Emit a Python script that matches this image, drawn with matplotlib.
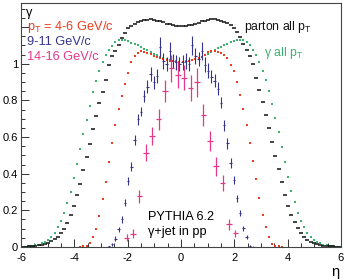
import numpy as np
import matplotlib
matplotlib.use("Agg")
import matplotlib.pyplot as plt
from matplotlib.ticker import MultipleLocator, FuncFormatter, FormatStrFormatter

plt.rcParams['font.family'] = ['Liberation Sans', 'DejaVu Sans']
plt.rcParams['mathtext.default'] = 'regular'

# histogram binning in eta (100 bins, pink one rebinned to 50)
edges = np.linspace(-6, 6, 101)
edges_pink = np.linspace(-6, 6, 51)

# parton, all pT (black)
parton_all = [0.001, 0.002, 0.003, 0.004, 0.006, 0.008, 0.011, 0.016, 0.022, 0.030,
              0.041, 0.056, 0.075, 0.098, 0.132, 0.172, 0.224, 0.282, 0.345, 0.42,
              0.49, 0.564, 0.645, 0.715, 0.788, 0.846, 0.912, 0.995, 1.04, 1.07,
              1.105, 1.14, 1.168, 1.193, 1.208, 1.219, 1.227, 1.233, 1.237, 1.24,
              1.242, 1.24, 1.236, 1.231, 1.226, 1.22, 1.215, 1.211, 1.208, 1.206,
              1.206, 1.207, 1.21, 1.214, 1.219, 1.225, 1.231, 1.236, 1.24, 1.242,
              1.242, 1.24, 1.236, 1.23, 1.222, 1.212, 1.198, 1.175, 1.145, 1.11,
              1.075, 1.045, 1.0, 0.925, 0.855, 0.792, 0.722, 0.652, 0.572, 0.498,
              0.425, 0.352, 0.282, 0.224, 0.176, 0.134, 0.101, 0.075, 0.054, 0.039,
              0.028, 0.02, 0.014, 0.01, 0.007, 0.005, 0.004, 0.003, 0.002, 0.001]

# gamma, all pT (green)
gamma_all = [0.001, 0.002, 0.004, 0.006, 0.009, 0.013, 0.019, 0.028, 0.04, 0.057,
             0.078, 0.107, 0.142, 0.185, 0.24, 0.302, 0.375, 0.452, 0.535, 0.615,
             0.695, 0.772, 0.845, 0.907, 0.958, 1.008, 1.046, 1.075, 1.099, 1.118,
             1.128, 1.131, 1.128, 1.123, 1.116, 1.108, 1.1, 1.092, 1.083, 1.074,
             1.065, 1.055, 1.046, 1.038, 1.031, 1.025, 1.02, 1.016, 1.013, 1.012,
             1.012, 1.013, 1.016, 1.02, 1.025, 1.031, 1.038, 1.047, 1.056, 1.066,
             1.075, 1.084, 1.093, 1.101, 1.109, 1.117, 1.124, 1.129, 1.132, 1.13,
             1.12, 1.1, 1.077, 1.048, 1.012, 0.963, 0.912, 0.852, 0.78, 0.705,
             0.628, 0.548, 0.462, 0.38, 0.305, 0.245, 0.188, 0.142, 0.107, 0.078,
             0.057, 0.04, 0.028, 0.019, 0.013, 0.009, 0.006, 0.004, 0.002, 0.001]

nan = np.nan
# gamma, pT = 4-6 GeV/c (red)
gamma_4_6 = [nan] * 18 + [
    0.001, 0.003, 0.007, 0.02, 0.052, 0.10, 0.168, 0.26, 0.357, 0.462,
    0.565, 0.668, 0.752, 0.825, 0.89, 0.952, 1.008, 1.042, 1.06, 1.07,
    1.066, 1.058, 1.052, 1.045, 1.038, 1.032, 1.026, 1.021, 1.017, 1.014,
    1.012, 1.01,
    1.01, 1.012, 1.015, 1.019, 1.024, 1.03, 1.037, 1.048, 1.062, 1.07,
    1.068, 1.064, 1.06, 1.05, 1.03, 0.995, 0.958, 0.90, 0.83, 0.755,
    0.665, 0.57, 0.47, 0.37, 0.27, 0.175, 0.108, 0.055, 0.018, 0.007,
    0.003, 0.001] + [nan] * 18

# gamma, pT = 9-11 GeV/c (blue)
gamma_9_11 = [nan] * 27 + [
    0.003, 0.015, 0.046, 0.096, 0.15, 0.242, 0.36, 0.438, 0.585, 0.696,
    0.738, 0.824, 0.875, 0.945, 0.90, 0.934, 1.09, 1.016, 0.998, 1.071,
    1.016, 1.008, 0.998,
    1.008, 1.015, 0.998, 1.10, 1.044, 1.026, 1.071, 0.995, 0.962, 0.93,
    0.907, 0.865, 0.788, 0.665, 0.565, 0.458, 0.368, 0.265, 0.185, 0.101,
    0.055, 0.004, 0.002] + [nan] * 27
gamma_9_11_err = [nan] * 27 + [
    0.003, 0.008, 0.012, 0.015, 0.018, 0.02, 0.024, 0.025, 0.028, 0.03,
    0.025, 0.035, 0.035, 0.037, 0.035, 0.04, 0.055, 0.045, 0.04, 0.05,
    0.04, 0.04, 0.04,
    0.04, 0.045, 0.04, 0.05, 0.045, 0.04, 0.05, 0.04, 0.04, 0.035,
    0.035, 0.035, 0.03, 0.03, 0.028, 0.025, 0.022, 0.02, 0.018, 0.015,
    0.012, 0.005, 0.003] + [nan] * 27

# gamma, pT = 14-16 GeV/c (pink), 50 bins
gamma_14_16 = [nan] * 16 + [
    0.05, 0.072, 0.277, 0.515, 0.604, 0.696, 0.853, 0.975, 0.94,
    0.925, 0.868, 0.898, 0.718, 0.577, 0.44, 0.348, 0.125, 0.074] + [nan] * 16
gamma_14_16_err = [nan] * 16 + [
    0.02, 0.025, 0.035, 0.045, 0.05, 0.055, 0.06, 0.075, 0.07,
    0.07, 0.07, 0.08, 0.06, 0.055, 0.05, 0.045, 0.03, 0.02] + [nan] * 16

c_black = '#111111'
c_green = '#3cb36e'
c_red = '#ee3a1e'
c_blue = '#34348e'
c_pink = '#e6388a'

x = 0.5 * (edges[1:] + edges[:-1])
xp = 0.5 * (edges_pink[1:] + edges_pink[:-1])
hw = 0.5 * (edges[1] - edges[0])
hwp = 0.5 * (edges_pink[1] - edges_pink[0])

fig = plt.figure(figsize=(3.46, 2.80), dpi=100)
ax = fig.add_axes([0.0607, 0.118, 0.9248, 0.870])

ax.plot(x, gamma_all, ls='none', marker='s', ms=1.9, mew=0, color=c_green)
ax.plot(x, parton_all, ls='none', marker='_', ms=2.6, mew=1.1, color=c_black)
ax.plot(x, gamma_4_6, ls='none', marker='s', ms=2.0, mew=0, color=c_red)
ax.errorbar(x, gamma_9_11, yerr=gamma_9_11_err, xerr=hw * 0.8, fmt='none',
            ecolor=c_blue, elinewidth=0.8, capsize=0)
ax.errorbar(xp, gamma_14_16, yerr=gamma_14_16_err, xerr=hwp * 0.85, fmt='none',
            ecolor=c_pink, elinewidth=0.9, capsize=0)

ax.set_xlim(-6, 6)
ax.set_ylim(0, 1.33)
ax.xaxis.set_major_locator(MultipleLocator(2))
ax.xaxis.set_minor_locator(MultipleLocator(0.5))
ax.yaxis.set_major_locator(MultipleLocator(0.2))
ax.yaxis.set_minor_locator(MultipleLocator(0.05))
ax.xaxis.set_major_formatter(FormatStrFormatter('%g'))
# the 1.2 label is not printed on the original
ax.yaxis.set_major_formatter(FuncFormatter(lambda v, p: '' if v > 1.1 else '%g' % v))
ax.tick_params(which='both', direction='in', top=False, right=False,
               labelsize=8, color='#333333', width=0.7)
ax.tick_params(which='major', length=6)
ax.tick_params(which='minor', length=3)
ax.tick_params(axis='x', which='major', pad=4)
ax.tick_params(axis='y', which='major', pad=2)
for s in ax.spines.values():
    s.set_linewidth(0.8)
    s.set_color('#444444')

tr = ax.transAxes
fs = 9.2
ax.text(0.016, 0.962, '\u03b3', transform=tr, fontsize=fs, va='center', ha='left')
ax.text(0.019, 0.904, '$p_T$ = 4-6 GeV/c', transform=tr, fontsize=fs,
        va='center', ha='left', color=c_red)
ax.text(0.019, 0.842, '9-11 GeV/c', transform=tr, fontsize=fs,
        va='center', ha='left', color=c_blue)
ax.text(0.019, 0.780, '14-16 GeV/c', transform=tr, fontsize=fs,
        va='center', ha='left', color=c_pink)
ax.text(0.696, 0.904, 'parton all $p_T$', transform=tr, fontsize=8.8,
        va='center', ha='left', color=c_black)
ax.text(0.758, 0.797, '\u03b3 all $p_T$', transform=tr, fontsize=8.8,
        va='center', ha='left', color=c_green)
ax.text(0.397, 0.125, 'PYTHIA 6.2', transform=tr, fontsize=fs,
        va='center', ha='left')
ax.text(0.397, 0.063, '\u03b3+jet in pp', transform=tr, fontsize=fs,
        va='center', ha='left')
fig.text(0.968, 0.027, '\u03b7', fontsize=10.5, va='center', ha='center')

fig.savefig('out.png', dpi=100)
